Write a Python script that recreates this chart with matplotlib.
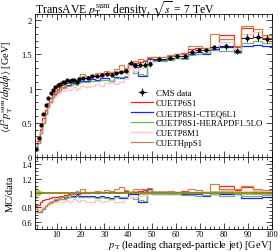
import matplotlib
matplotlib.use("Agg")
import matplotlib.pyplot as plt
import numpy as np
from matplotlib.ticker import MultipleLocator

plt.rcParams['font.family'] = ['Liberation Serif', 'DejaVu Serif']
plt.rcParams['mathtext.fontset'] = 'stix'
plt.rcParams['font.size'] = 7.5

# bin edges in pT (GeV)
edges = [1, 2, 3, 4, 5, 6, 7, 8, 9, 10, 11, 12, 13, 14, 15, 16, 17, 18, 19, 20,
         22, 24, 26, 28, 30, 32, 34, 36, 38, 40, 42, 44, 46, 48, 50,
         56, 59, 62, 65, 68, 71, 74, 78, 84, 87, 92, 96, 100]

# CMS data
data = [0.12, 0.28, 0.47, 0.63, 0.76, 0.86, 0.93, 0.98, 1.02, 1.05, 1.07, 1.09, 1.10, 1.12, 1.11, 1.12, 1.13, 1.09, 1.14,
        1.15, 1.16, 1.18, 1.19, 1.20, 1.21, 1.20, 1.22, 1.24, 1.25, 1.38, 1.34, 1.35, 1.35, 1.36,
        1.43, 1.45, 1.47, 1.48, 1.54, 1.56, 1.56, 1.60, 1.62, 1.55, 1.74, 1.76, 1.72]
data_err = [0.01, 0.01, 0.01, 0.01, 0.01, 0.015, 0.015, 0.015, 0.015, 0.015, 0.015, 0.015, 0.015, 0.015, 0.015, 0.015, 0.015, 0.015, 0.015,
            0.02, 0.02, 0.02, 0.02, 0.02, 0.02, 0.02, 0.02, 0.02, 0.02, 0.04, 0.04, 0.04, 0.04, 0.04,
            0.03, 0.03, 0.03, 0.03, 0.03, 0.03, 0.03, 0.04, 0.05, 0.04, 0.06, 0.06, 0.06]

# MC/data ratios
r_p6s1 = [0.82, 0.84, 0.87, 0.90, 0.91, 0.92, 0.93, 0.94, 0.95, 0.95, 0.96, 0.96, 0.97, 0.97, 0.98, 0.98, 0.99, 1.00, 0.99,
          1.00, 1.00, 1.01, 1.00, 1.02, 1.01, 1.02, 1.02, 1.01, 1.03, 0.98, 1.02, 1.03, 1.04, 1.06,
          1.02, 1.02, 1.02, 1.03, 1.02, 1.02, 1.02, 1.00, 1.10, 1.04, 1.08, 1.00, 1.01]
r_cteq = [0.75, 0.73, 0.74, 0.78, 0.82, 0.85, 0.87, 0.89, 0.90, 0.91, 0.92, 0.92, 0.93, 0.94, 0.95, 0.96, 0.96, 0.98, 0.96,
          0.96, 0.96, 0.96, 0.95, 0.96, 0.95, 0.93, 0.96, 0.93, 0.93, 0.99, 0.98, 0.88, 0.88, 1.05,
          0.99, 0.99, 0.98, 0.98, 0.98, 0.98, 0.96, 0.99, 0.99, 0.99, 0.93, 0.93, 0.94]
r_hera = [0.80, 0.74, 0.75, 0.79, 0.82, 0.84, 0.86, 0.88, 0.89, 0.90, 0.91, 0.92, 0.92, 0.93, 0.94, 0.94, 0.95, 0.96, 0.95,
          0.95, 0.94, 0.94, 0.93, 0.94, 0.93, 0.92, 0.94, 0.94, 0.95, 0.95, 0.92, 0.90, 0.89, 1.02,
          0.98, 0.98, 0.98, 0.97, 0.97, 0.96, 0.97, 0.98, 0.96, 0.98, 0.96, 0.96, 0.97]
r_p8m1 = [0.78, 0.76, 0.78, 0.80, 0.82, 0.84, 0.85, 0.86, 0.87, 0.87, 0.88, 0.88, 0.89, 0.90, 0.88, 0.89, 0.91, 0.90, 0.88,
          0.90, 0.88, 0.88, 0.90, 0.87, 0.89, 0.90, 0.88, 0.88, 0.91, 0.95, 0.94, 0.96, 0.97, 1.00,
          1.00, 1.01, 1.00, 1.02, 1.00, 1.00, 1.01, 1.00, 1.04, 1.02, 1.03, 1.04, 1.03]
r_hpp = [0.83, 0.73, 0.74, 0.78, 0.82, 0.85, 0.87, 0.89, 0.91, 0.92, 0.93, 0.94, 0.95, 0.96, 0.97, 0.98, 0.99, 1.03, 1.02,
         1.06, 1.02, 1.01, 1.03, 1.02, 1.04, 1.03, 1.05, 1.08, 1.04, 1.00, 1.05, 1.06, 1.05, 1.07,
         1.02, 1.03, 1.02, 1.02, 1.05, 1.04, 1.02, 1.12, 1.06, 1.05, 1.10, 1.06, 1.04]

labels = ['CUETP6S1', 'CUETP8S1-CTEQ6L1', 'CUETP8S1-HERAPDF1.5LO', 'CUETP8M1', 'CUETHppS1']
colors = ['#ff2020', '#2020ff', '#6cb86c', '#ffc4c4', '#c8864a']
ratios = [r_p6s1, r_cteq, r_hera, r_p8m1, r_hpp]

edges = np.array(edges)
data = np.array(data)
data_err = np.array(data_err)
centers = 0.5 * (edges[1:] + edges[:-1])
half = 0.5 * (edges[1:] - edges[:-1])

fig = plt.figure(figsize=(2.8, 2.53), dpi=100)
ax = fig.add_axes([0.125, 0.3755, 0.846, 0.5655])
axr = fig.add_axes([0.125, 0.091, 0.846, 0.2845], sharex=ax)

# data band in ratio
rel = data_err / data
axr.fill_between(edges, np.append(1 - rel, 1 - rel[-1]), np.append(1 + rel, 1 + rel[-1]),
                 step='post', color='#b4b43a', alpha=0.8, lw=0)
axr.axhline(1, color='#86861e', lw=1.2)

for r, c, lab in zip(ratios, colors, labels):
    r = np.array(r)
    ax.stairs(r * data, edges, color=c, lw=0.9, label=lab, baseline=None)
    axr.stairs(r, edges, color=c, lw=0.9, baseline=None)

ax.errorbar(centers, data, yerr=data_err, xerr=half, fmt='o', ms=2.0, color='black',
            lw=0.6, capsize=0, label='CMS data', zorder=5)

ax.set_xlim(1, 100)
ax.set_ylim(0, 2.09)
axr.set_ylim(0.5, 1.5)

for a in (ax, axr):
    a.tick_params(which='both', direction='in', top=True, right=True, labelsize=6, pad=2)
    a.tick_params(which='major', length=4, width=0.5)
    a.tick_params(which='minor', length=2, width=0.5)
    for s in a.spines.values():
        s.set_linewidth(0.6)
    a.xaxis.set_major_locator(MultipleLocator(10))
    a.xaxis.set_minor_locator(MultipleLocator(2))

ax.yaxis.set_major_locator(MultipleLocator(0.5))
ax.yaxis.set_minor_locator(MultipleLocator(0.1))
ax.set_yticks([0, 0.5, 1, 1.5, 2])
ax.set_yticklabels(['0', '0.5', '1', '1.5', '2'])
axr.yaxis.set_major_locator(MultipleLocator(0.2))
axr.yaxis.set_minor_locator(MultipleLocator(0.05))
axr.set_yticks([0.6, 0.8, 1.0, 1.2, 1.4])
axr.set_yticklabels(['0.6', '0.8', '1', '1.2', '1.4'])
axr.tick_params(axis='x', pad=1)
plt.setp(ax.get_xticklabels(), visible=False)

ax.set_ylabel(r'$\langle d^2 p_\mathrm{T}^\mathrm{sum} / d\eta d\phi\rangle$ [GeV]', fontsize=7.5)
ax.yaxis.set_label_coords(-0.085, 0.5)
axr.set_ylabel('MC/data', fontsize=7.5)
axr.yaxis.set_label_coords(-0.085, 0.5)
fig.text(0.971, 0.003, r'$p_\mathrm{T}$ (leading charged-particle jet) [GeV]', fontsize=7.5,
         ha='right', va='bottom')

fig.text(0.125, 0.968, r'TransAVE $p_\mathrm{T}^\mathrm{sum}$ density, $\sqrt{s}$ = 7 TeV', fontsize=8.5, va='center')

handles, labs = ax.get_legend_handles_labels()
order = [5, 0, 1, 2, 3, 4]
ax.legend([handles[i] for i in order], [labs[i] for i in order], loc='upper left',
          bbox_to_anchor=(0.392, 0.50), borderaxespad=0,
          frameon=False, fontsize=6.3, handlelength=2.5, labelspacing=0.22,
          handletextpad=0.3)

fig.savefig('out.png', dpi=100)
